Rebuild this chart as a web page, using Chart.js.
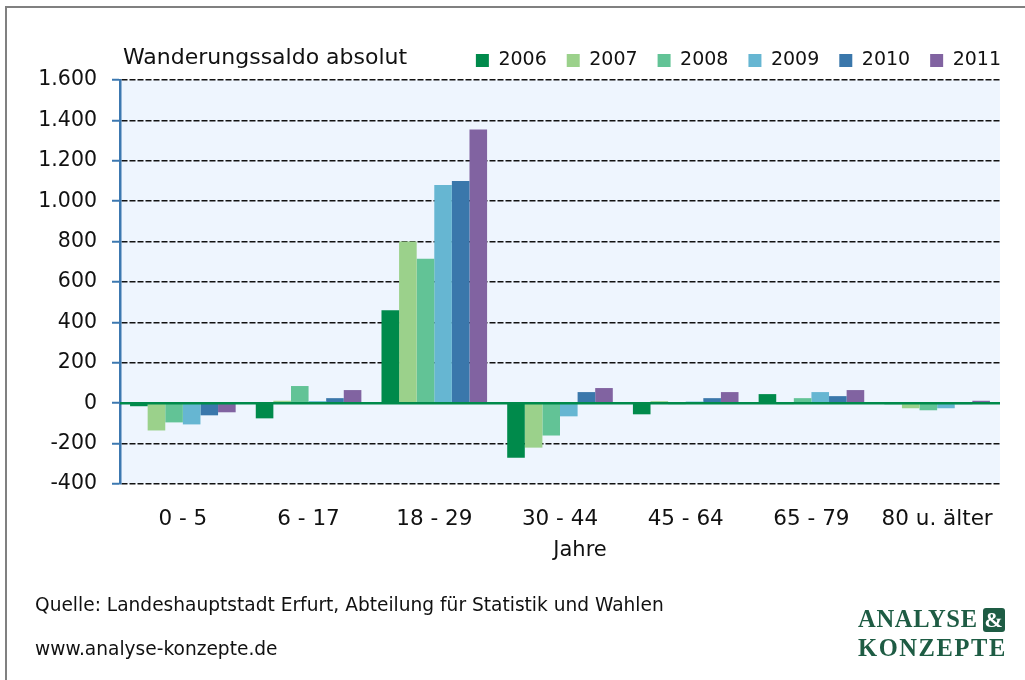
<!DOCTYPE html>
<html>
<head>
<meta charset="utf-8">
<script src="https://cdn.jsdelivr.net/npm/chart.js@4"></script>
<style>
  html, body { margin: 0; padding: 0; background: #fff; }
  #wrap { position: absolute; left: 0; top: 0; width: 1025px; height: 680px; overflow: hidden; font-family: "DejaVu Sans", sans-serif; }
  #frame { position: absolute; left: 5px; top: 6px; width: 1100px; height: 700px; border-left: 2px solid #808080; border-top: 2px solid #808080; }
  #myChart { position: absolute; left: 0; top: 0; }
  .txt { position: absolute; color: #111; white-space: nowrap; }
  #title { left: 123px; top: 44px; font-size: 22px; }
  #quelle { left: 35px; top: 594px; font-size: 18.6px; }
  #www { left: 35px; top: 638px; font-size: 18.6px; }
  #logo { position: absolute; left: 858px; top: 604px; font-family: "Liberation Serif", serif; font-weight: bold; color: #1e5c44; font-size: 24.5px; line-height: 29px; letter-spacing: 0.7px; }
  #logo .k { letter-spacing: 1.6px; }
  #amp { display: inline-block; background: #1e5c44; color: #fff; border-radius: 3px; width: 22px; height: 24px; line-height: 24px; text-align: center; margin-left: 5px; font-size: 22px; letter-spacing: 0; }
</style>
</head>
<body>
<div id="wrap">
  <div id="frame"></div>
  <canvas id="myChart" width="1025" height="680"></canvas>
  <div class="txt" id="title">Wanderungssaldo absolut</div>
  <div class="txt" id="quelle">Quelle: Landeshauptstadt Erfurt, Abteilung für Statistik und Wahlen</div>
  <div class="txt" id="www">www.analyse-konzepte.de</div>
  <div id="logo">ANALYSE<span id="amp">&amp;</span><br><span class="k">KONZEPTE</span></div>
</div>
<script>
const altersgruppen = ['0 - 5', '6 - 17', '18 - 29', '30 - 44', '45 - 64', '65 - 79', '80 u. älter'];
const jahre = ['2006', '2007', '2008', '2009', '2010', '2011'];
const saldo2006 = [-15, -75, 460, -270, -55, 45, -5];
const saldo2007 = [-135, 12, 800, -220, 10, -5, -25];
const saldo2008 = [-95, 85, 715, -160, -5, 25, -35];
const saldo2009 = [-105, 10, 1080, -65, 8, 55, -25];
const saldo2010 = [-60, 25, 1100, 55, 25, 35, -5];
const saldo2011 = [-45, 65, 1355, 75, 55, 65, 12];
const yMin = -400, yMax = 1600, yStep = 200;

const farben = ['#008a4b', '#9bd18b', '#62c396', '#66b6d2', '#3a77ab', '#8163a1'];
const reihen = [saldo2006, saldo2007, saldo2008, saldo2009, saldo2010, saldo2011];

// Hintergrund der Zeichenfläche + grüne Nulllinie
const plotBg = {
    id: 'plotBg',
    beforeDraw(chart) {
        const {ctx, chartArea: a} = chart;
        ctx.save();
        ctx.fillStyle = '#eef5fe';
        ctx.fillRect(a.left, a.top, a.right - a.left, a.bottom - a.top);
        ctx.restore();
    },
    afterDatasetsDraw(chart) {
        const {ctx, chartArea: a, scales} = chart;
        const y0 = scales.y.getPixelForValue(0);
        ctx.save();
        ctx.strokeStyle = '#008a4b';
        ctx.lineWidth = 2.5;
        ctx.beginPath();
        ctx.moveTo(a.left, y0);
        ctx.lineTo(a.right, y0);
        ctx.stroke();
        ctx.restore();
    }
};

let ctx = document.getElementById('myChart');
let myChart = new Chart(ctx, {
    type: 'bar',
    data: {
        labels: altersgruppen,
        datasets: jahre.map((j, i) => ({
            label: j,
            data: reihen[i],
            backgroundColor: farben[i],
            borderWidth: 0,
            categoryPercentage: 0.84,
            barPercentage: 1
        }))
    },
    options: {
        responsive: false,
        animation: false,
        layout: {
            padding: {left: 0, right: 4, top: 31, bottom: 100}
        },
        scales: {
            x: {
                grid: {display: false, drawTicks: false},
                border: {display: false},
                ticks: {
                    color: '#111',
                    padding: 23,
                    font: {family: 'DejaVu Sans', size: 21.5}
                },
                title: {
                    display: true,
                    text: '      Jahre',
                    color: '#111',
                    padding: {top: 0, bottom: 17},
                    font: {family: 'DejaVu Sans', size: 21}
                },
                afterFit: s => { s.height = 96; }
            },
            y: {
                min: yMin,
                max: yMax,
                ticks: {
                    stepSize: yStep,
                    color: '#111',
                    padding: 15,
                    font: {family: 'DejaVu Sans', size: 20.5},
                    callback: v => v.toLocaleString('de-DE')
                },
                grid: {
                    color: '#111',
                    lineWidth: 1.5,
                    drawTicks: true,
                    tickLength: 8,
                    tickColor: '#3c78b0',
                    tickWidth: 2
                },
                border: {
                    display: true,
                    color: '#3c78b0',
                    width: 2.5,
                    dash: c => (c.type === 'tick') ? [6, 2] : []
                },
                afterFit: s => { s.width = 120; }
            },
            yr: {
                axis: 'y',
                position: 'right',
                display: true,
                grid: {display: false, drawTicks: false},
                border: {display: false},
                ticks: {display: false},
                afterFit: s => { s.width = 21; }
            }
        },
        plugins: {
            legend: {
                position: 'top',
                align: 'end',
                labels: {
                    boxWidth: 13,
                    boxHeight: 13,
                    padding: 20,
                    color: '#111',
                    font: {family: 'DejaVu Sans', size: 19}
                }
            },
            tooltip: {enabled: false}
        }
    },
    plugins: [plotBg]
});
</script>
</body>
</html>
